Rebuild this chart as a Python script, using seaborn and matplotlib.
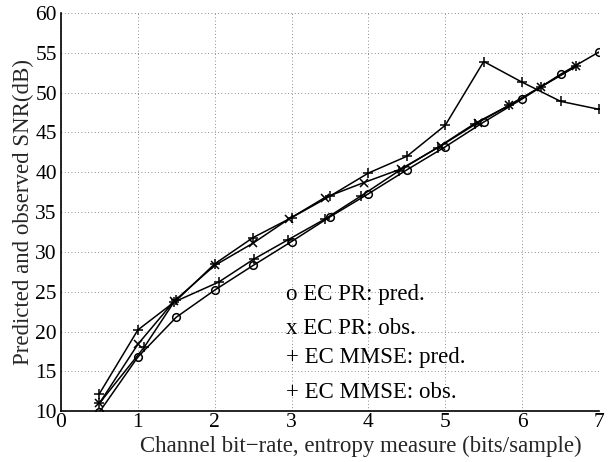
import matplotlib
matplotlib.use("Agg")
import matplotlib.pyplot as plt
import seaborn as sns
import pandas as pd

# --- data ---
pr_pred_x = [0.5, 1.0, 1.5, 2.0, 2.5, 3.0, 3.5, 4.0, 4.5, 5.0, 5.5, 6.0, 6.5, 7.0]
pr_pred_y = [9.9, 16.8, 21.8, 25.2, 28.3, 31.3, 34.4, 37.3, 40.3, 43.2, 46.3, 49.2, 52.3, 55.1]

pr_obs_x = [0.5, 1.0, 1.47, 2.0, 2.5, 2.96, 3.43, 3.94, 4.42, 4.94, 5.42, 5.83, 6.24, 6.7]
pr_obs_y = [11.0, 18.4, 23.8, 28.3, 31.1, 34.1, 36.8, 38.7, 40.4, 43.3, 46.2, 48.4, 50.7, 53.3]

mmse_pred_x = [0.5, 1.08, 1.47, 2.05, 2.51, 2.95, 3.43, 3.9, 4.4, 4.9, 5.38, 5.83, 6.24, 6.7]
mmse_pred_y = [11.0, 18.0, 23.7, 26.2, 29.1, 31.5, 34.1, 37.0, 40.2, 43.1, 46.1, 48.4, 50.7, 53.3]

mmse_obs_x = [0.5, 1.0, 1.5, 2.0, 2.5, 3.0, 3.5, 4.0, 4.5, 5.0, 5.5, 6.0, 6.5, 7.0]
mmse_obs_y = [12.2, 20.2, 23.9, 28.5, 31.8, 34.3, 37.0, 39.9, 42.0, 45.9, 53.9, 51.3, 48.9, 47.9]

legend_labels = ["o EC PR: pred.", "x EC PR: obs.", "+ EC MMSE: pred.", "+ EC MMSE: obs."]
x_ticks = [0, 1, 2, 3, 4, 5, 6, 7]
y_ticks = [10, 15, 20, 25, 30, 35, 40, 45, 50, 55, 60]

sns.set_style("white")
plt.rcParams['font.family'] = ['Liberation Serif', 'DejaVu Serif']

FS = 16.5
FS_TICK = 15.5

fig = plt.figure(figsize=(6.10, 4.62), dpi=100)
ax = fig.add_axes([0.100, 0.110, 0.882, 0.862])

series = [
    (pr_pred_x, pr_pred_y, 'o', 5.5),
    (pr_obs_x, pr_obs_y, 'x', 5.5),
    (mmse_pred_x, mmse_pred_y, '+', 7),
    (mmse_obs_x, mmse_obs_y, '+', 7),
]
for xs, ys, mk, ms in series:
    df = pd.DataFrame({"x": xs, "y": ys})
    sns.lineplot(data=df, x="x", y="y", ax=ax, sort=False, estimator=None,
                 color='black', linewidth=1.1, marker=mk, markersize=ms,
                 markerfacecolor='none', markeredgecolor='black',
                 markeredgewidth=1.1)

ax.set_xlim(0, 7)
ax.set_ylim(10, 60)
ax.set_xticks(x_ticks)
ax.set_yticks(y_ticks)
ax.tick_params(direction='in', length=4, width=1, labelsize=FS_TICK, colors='black',
               top=False, right=False)
ax.tick_params(axis='x', pad=1)
ax.tick_params(axis='y', pad=3)
ax.grid(True, linestyle=(0, (1, 3)), color='black', linewidth=0.6, alpha=0.6)

for s in ['top', 'right']:
    ax.spines[s].set_visible(False)
for s in ['left', 'bottom']:
    ax.spines[s].set_color('black')
    ax.spines[s].set_linewidth(1.2)

ax.set_xlabel("Channel bit\u2212rate, entropy measure (bits/sample)", fontsize=FS)
ax.xaxis.set_label_coords(0.558, -0.063)
ax.set_ylabel("Predicted and observed SNR(dB)", fontsize=FS, labelpad=1)

leg_y = [24.6, 20.4, 16.7, 12.4]
for lab, yy in zip(legend_labels, leg_y):
    ax.text(2.93, yy, lab, fontsize=FS, va='center', ha='left', color='black')

fig.savefig("out.png", dpi=100)
